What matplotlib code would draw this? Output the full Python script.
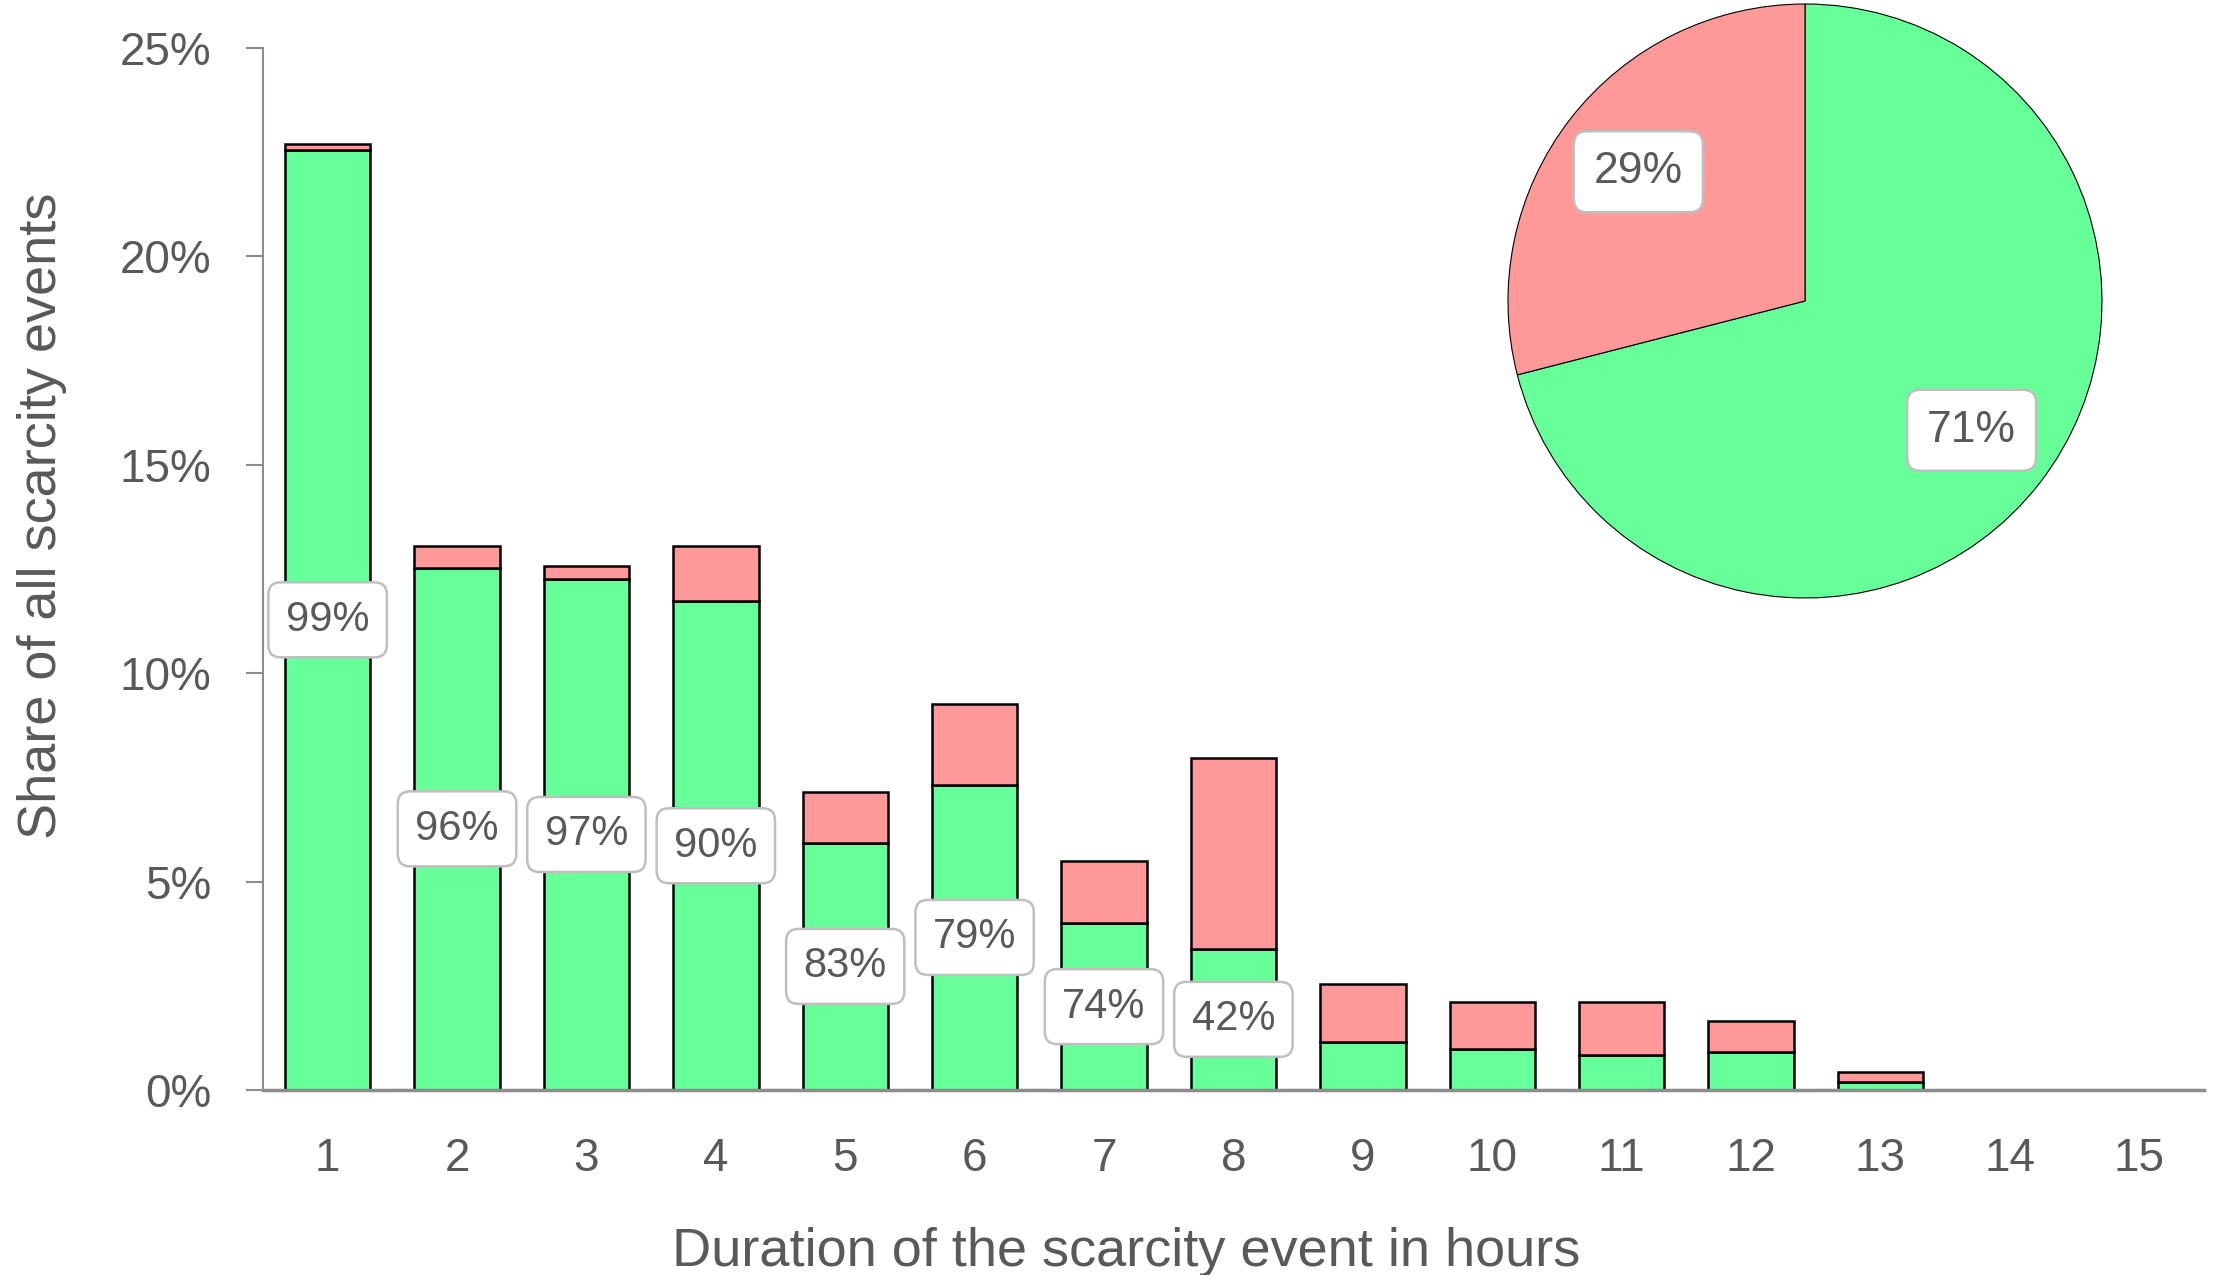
import matplotlib
matplotlib.use("Agg")
import matplotlib.pyplot as plt
import numpy as np

# duration of scarcity events (hours) and share of all events (%)
hours = list(range(1, 16))
green_share = [22.56, 12.53, 12.26, 11.72, 5.93, 7.32, 4.00, 3.39, 1.15, 0.98, 0.85, 0.91, 0.20, 0, 0]
red_share = [0.14, 0.51, 0.31, 1.32, 1.22, 1.93, 1.49, 4.57, 1.39, 1.12, 1.25, 0.75, 0.24, 0, 0]
bar_labels = ["99%", "96%", "97%", "90%", "83%", "79%", "74%", "42%"]

pie_values = [71, 29]
pie_labels = ["71%", "29%"]

GREEN = "#66FF99"
RED = "#FF9999"
TXT = "#595959"
AX = "#8c8c8c"

plt.rcParams['font.family'] = ['Liberation Sans', 'DejaVu Sans']

fig = plt.figure(figsize=(22.15, 12.75), dpi=100)
ax = fig.add_axes([0.1187, 0.1451, 0.995 - 0.1187, 0.9624 - 0.1451])

x = np.array(hours)
g = np.array(green_share)
r = np.array(red_share)
m = (g + r) > 0

ax.bar(x[m], g[m], width=0.66, color=GREEN, edgecolor="black", linewidth=1.8, zorder=2)
ax.bar(x[m], r[m], bottom=g[m], width=0.66, color=RED, edgecolor="black", linewidth=1.8, zorder=2)

box = dict(boxstyle="round,pad=0.42,rounding_size=0.3", fc="white", ec="#BFBFBF", lw=1.8)
for i, lab in enumerate(bar_labels):
    ax.text(x[i], g[i] / 2, lab, ha="center", va="center", fontsize=30,
            color=TXT, bbox=box, zorder=3)

ax.set_xlim(0.5, 15.5)
ax.set_ylim(0, 25)
ax.set_xticks(hours)
ax.set_yticks([0, 5, 10, 15, 20, 25])
ax.set_yticklabels([f"{v}%" for v in [0, 5, 10, 15, 20, 25]])

for s in ["top", "right"]:
    ax.spines[s].set_visible(False)
ax.spines["left"].set_color(AX)
ax.spines["left"].set_linewidth(1.5)
ax.spines["bottom"].set_color(AX)
ax.spines["bottom"].set_linewidth(2.5)

ax.tick_params(axis="x", length=0, pad=34, labelsize=33, labelcolor=TXT)
ax.tick_params(axis="y", length=12, width=1.5, color=AX, pad=25, labelsize=33, labelcolor=TXT)

ax.set_xlabel("Duration of the scarcity event in hours", fontsize=39, color=TXT)
ax.set_ylabel("Share of all scarcity events", fontsize=39, color=TXT)
ax.xaxis.set_label_coords(0.445, -0.131)
ax.yaxis.set_label_coords(-0.101, 0.551)

# inset pie
cx, cy, rad = 1805, 301, 297
pax = fig.add_axes([(cx - rad) / 2215, (1275 - cy - rad) / 1275, 2 * rad / 2215, 2 * rad / 1275])
wedges, texts = pax.pie(pie_values, colors=[GREEN, RED], startangle=90, counterclock=False,
                        labels=pie_labels, labeldistance=0.71,
                        wedgeprops=dict(edgecolor="black", linewidth=0.8))
pbox = dict(boxstyle="round,pad=0.45,rounding_size=0.3", fc="white", ec="#BFBFBF", lw=1.8)
for t in texts:
    t.set_ha("center")
    t.set_va("center")
    t.set_fontsize(32)
    t.set_color(TXT)
    t.set_bbox(pbox)
pax.set_xlim(-1, 1)
pax.set_ylim(-1, 1)
pax.set_aspect("equal")

fig.savefig("out.png", dpi=100)
